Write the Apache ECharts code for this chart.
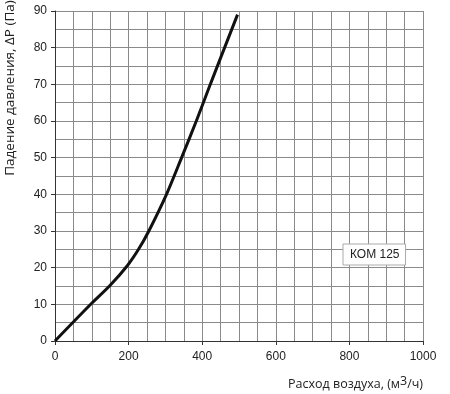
<!DOCTYPE html>
<html>
<head>
<meta charset="utf-8">
<script src="https://cdn.jsdelivr.net/npm/echarts@6/dist/echarts.min.js"></script>
<style>
  html, body { margin: 0; padding: 0; background: #fff; }
  #chart { width: 450px; height: 394px; }
</style>
</head>
<body>
<div id="chart"></div>
<script>
// расход воздуха, м3/ч
var flow = [0, 95, 150, 197, 227, 255, 303, 344, 384, 422, 496];
// падение давления, Па
var pressure = [0, 9.8, 15.2, 20.6, 25, 30, 40, 50, 60, 70, 89];
var seriesName = 'КОМ 125';

var points = flow.map(function (x, i) { return [x, pressure[i]]; });

var gridColor = '#8a8a8a';
var labelFont = { color: '#222', fontSize: 12, fontFamily: 'Liberation Sans, Arial, sans-serif' };

echarts.init(document.getElementById('chart')).setOption({
    animation: false,
    grid: { left: 55, right: 27, top: 11, bottom: 53, outerBoundsMode: 'none', containLabel: false },
    legend: {
        data: [{ name: seriesName, icon: 'none' }],
        left: 343, top: 244,
        itemWidth: 0, itemGap: 0,
        padding: [4, 6, 4, 2],
        backgroundColor: '#fff',
        borderColor: '#aaa',
        borderWidth: 1,
        borderRadius: 0,
        textStyle: { color: '#222', fontSize: 12, fontFamily: 'Liberation Sans, Arial, sans-serif' }
    },
    xAxis: {
        type: 'value',
        min: 0, max: 1000, interval: 200,
        name: 'Расход воздуха, (м{s|3}/ч)',
        nameLocation: 'end',
        nameGap: 0,
        nameTextStyle: {
            color: '#222', fontSize: 12.5, fontFamily: 'Open Sans, sans-serif',
            align: 'right', verticalAlign: 'top', padding: [34, 0, 0, 0],
            rich: { s: { fontSize: 12.5, verticalAlign: 'top', padding: [0, 0, 6, 0], fontFamily: 'Open Sans, sans-serif', color: '#222' } }
        },
        axisLine: { lineStyle: { color: '#333', width: 1 } },
        axisTick: { show: true, length: 4, lineStyle: { color: '#333' } },
        axisLabel: Object.assign({ margin: 10, formatter: function (v) { return String(v); } }, labelFont),
        splitLine: { show: true, lineStyle: { color: gridColor, width: 1 } },
        minorTick: { show: false, splitNumber: 4 },
        minorSplitLine: { show: true, lineStyle: { color: gridColor, width: 1 } }
    },
    yAxis: {
        type: 'value',
        min: 0, max: 90, interval: 10,
        name: 'Падение давления, ΔP (Па)',
        nameLocation: 'middle',
        nameGap: 38,
        nameTextStyle: { color: '#222', fontSize: 13.5, fontFamily: 'Open Sans, sans-serif', padding: [0, 0, 0, 176] },
        axisLine: { show: true, lineStyle: { color: '#333', width: 1 } },
        axisTick: { show: true, length: 4, lineStyle: { color: '#333' } },
        axisLabel: Object.assign({ margin: 8 }, labelFont),
        splitLine: { show: true, lineStyle: { color: gridColor, width: 1 } },
        minorTick: { show: false, splitNumber: 2 },
        minorSplitLine: { show: true, lineStyle: { color: gridColor, width: 1 } }
    },
    series: [
        {
            name: seriesName,
            type: 'line',
            data: points,
            smooth: 0.3,
            showSymbol: false,
            lineStyle: { color: '#111', width: 3 },
            itemStyle: { color: '#111' }
        }
    ]
});
</script>
</body>
</html>
